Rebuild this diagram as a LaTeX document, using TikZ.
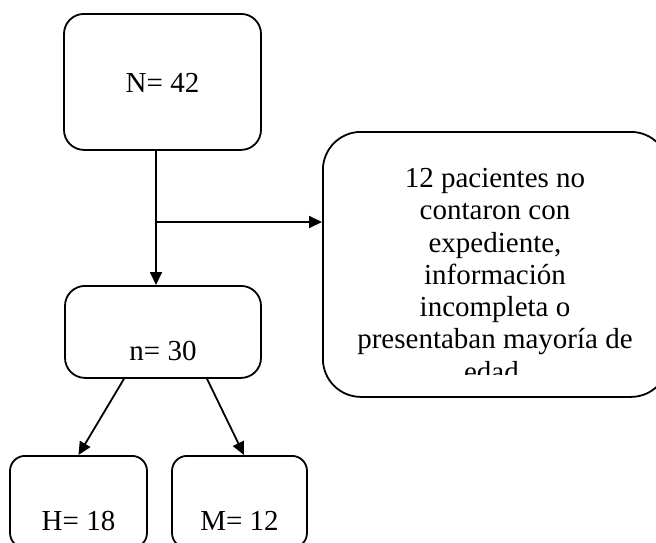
\documentclass[tikz,border=0pt]{standalone}
\usepackage{fontspec}
\setmainfont{Liberation Serif}
\usetikzlibrary{arrows.meta,positioning}

\begin{document}
\begin{tikzpicture}[
  x=1pt,y=-1pt,
  >={Triangle[length=13pt,width=12pt]},
  font=\fontsize{29pt}{32.3pt}\selectfont,
  box/.style={draw,line width=1.8pt,rounded corners=20pt,inner sep=0pt,
    align=center},
  smallbox/.style={box,rounded corners=15pt,minimum width=137pt,
    text height=75pt,text depth=17pt,anchor=north},
  note/.style={inner sep=0pt,align=center},
  line/.style={->,line width=1.8pt}
]
  \clip (0,0) rectangle (656,542);

  \node[box,minimum width=197pt,text height=79pt,text depth=57pt,anchor=north]
    (total) at (162.5,13) {N= 42};
  \node[box,minimum width=196pt,text height=75pt,text depth=17pt,anchor=north]
    (sample) at (163,285) {n= 30};
  \node[smallbox] (men) at (78.5,455) {H= 18};
  \node[smallbox,minimum width=135pt] (women) at (239.5,455) {M= 12};
  \node[box,rounded corners=38pt,minimum width=346pt,minimum height=265pt,
    anchor=north west] (excl) at (322,131) {};
  % text of the side box runs past its lower edge
  \begin{scope}
    \clip (excl.north west) rectangle ([yshift=23pt]excl.south east);
    \node[note,anchor=north] (excltext) at (495,168)
      {12 pacientes no\\contaron con\\expediente,\\información\\incompleta o\\
       presentaban mayoría de\\edad.};
  \end{scope}

  \coordinate (split) at (156,222);
  \draw[line] (total.south -| split) -- (split |- sample.north);
  \draw[line] (split) -- (excl.west |- split);
  \draw[line] ([xshift=-39pt]sample.south) -- (men.north);
  \draw[line] ([xshift=44pt]sample.south) -- ([xshift=4.5pt]women.north);
\end{tikzpicture}
\end{document}
